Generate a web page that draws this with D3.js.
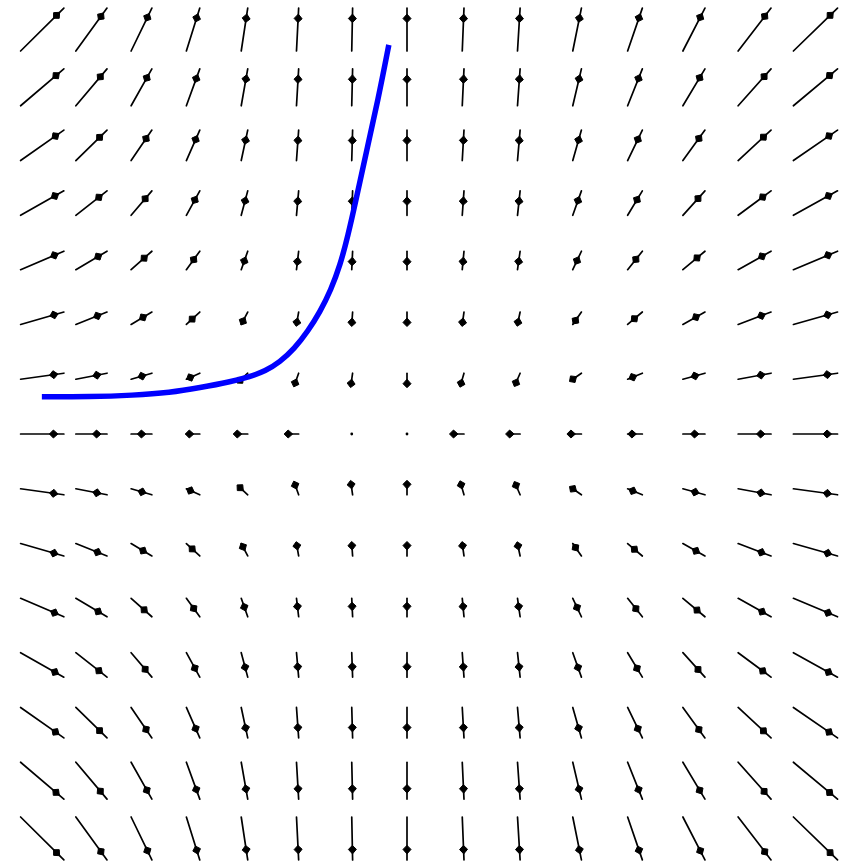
<!DOCTYPE html>
<html>
<head>
<meta charset="utf-8">
<script src="https://cdn.jsdelivr.net/npm/d3@7"></script>
<style>
  html, body { margin: 0; padding: 0; background: #ffffff; }
  svg { display: block; }
</style>
</head>
<body>
<svg id="chart" width="852" height="867"></svg>
<script>
// Grid of sample points (phase plane, both axes on [-1, 1])
const gridX = [-1, -0.857, -0.714, -0.571, -0.429, -0.286, -0.143, 0, 0.143, 0.286, 0.429, 0.571, 0.714, 0.857, 1];
const gridY = [-1, -0.857, -0.714, -0.571, -0.429, -0.286, -0.143, 0, 0.143, 0.286, 0.429, 0.571, 0.714, 0.857, 1];

// Horizontal velocity at each column (depends on x only)
const flowX = [1.00, 0.72, 0.48, 0.31, 0.15, 0.05, 0.02, 0, 0.04, 0.06, 0.20, 0.34, 0.51, 0.76, 1.02];
// Vertical velocity at each row, bottom to top (depends on y only)
const flowY = [-1.00, -0.86, -0.71, -0.57, -0.43, -0.29, -0.14, 0, 0.14, 0.29, 0.43, 0.57, 0.71, 0.86, 1.00];

// Solution trajectory
const curveX = [-0.945, -0.820, -0.709, -0.613, -0.536, -0.458, -0.406, -0.367, -0.329, -0.292, -0.256, -0.225, -0.197, -0.173, -0.153, -0.132, -0.104, -0.075, -0.047];
const curveY = [0.097, 0.097, 0.101, 0.108, 0.121, 0.136, 0.150, 0.164, 0.188, 0.222, 0.269, 0.319, 0.376, 0.441, 0.517, 0.611, 0.742, 0.872, 1.016];

const svg = d3.select("#chart");
const x = d3.scaleLinear().domain([-1, 1]).range([20.6, 793.4]);
const y = d3.scaleLinear().domain([-1, 1]).range([817, 51]);

const arrowScale = 0.112; // data units of displacement per unit of velocity

// Build arrow records from the grid and flow arrays
const arrows = [];
gridX.forEach((gx, i) => {
  gridY.forEach((gy, j) => {
    const x0 = x(gx), y0 = y(gy);
    const x1 = x(gx + arrowScale * flowX[i]);
    const y1 = y(gy + arrowScale * flowY[j]);
    arrows.push({ x0, y0, x1, y1 });
  });
});

const field = svg.append("g").attr("class", "field");

arrows.forEach(a => {
  const dx = a.x1 - a.x0, dy = a.y1 - a.y0;
  const len = Math.hypot(dx, dy);
  if (len < 1.5) {
    field.append("circle")
      .attr("cx", a.x0).attr("cy", a.y0).attr("r", 1.4)
      .attr("fill", "#000");
    return;
  }
  const ux = dx / len, uy = dy / len;
  const px = -uy, py = ux;
  // shaft: starts at the tail, or behind it when the head sits past the tail
  const back = Math.max(len, 9);
  field.append("line")
    .attr("x1", a.x1 - ux * back).attr("y1", a.y1 - uy * back)
    .attr("x2", a.x1).attr("y2", a.y1)
    .attr("stroke", "#000").attr("stroke-width", 1.7)
    .attr("stroke-linecap", "round");
  // diamond-like arrow head set back from the tip
  const apx = a.x1 - ux * 6, apy = a.y1 - uy * 6;
  const mx = a.x1 - ux * 10.5, my = a.y1 - uy * 10.5;
  const bx = a.x1 - ux * 14.5, by = a.y1 - uy * 14.5;
  const hw = 4;
  field.append("path")
    .attr("d", `M${apx},${apy}L${mx + px * hw},${my + py * hw}L${bx},${by}L${mx - px * hw},${my - py * hw}Z`)
    .attr("fill", "#000")
    .attr("stroke", "#000")
    .attr("stroke-width", 1)
    .attr("stroke-linejoin", "round");
});

// Trajectory
const pts = curveX.map((cx, k) => [cx, curveY[k]]);
svg.append("path")
  .datum(pts)
  .attr("fill", "none")
  .attr("stroke", "#0000ff")
  .attr("stroke-width", 5.5)
  .attr("d", d3.line().x(d => x(d[0])).y(d => y(d[1])).curve(d3.curveBasis));
</script>
</body>
</html>
